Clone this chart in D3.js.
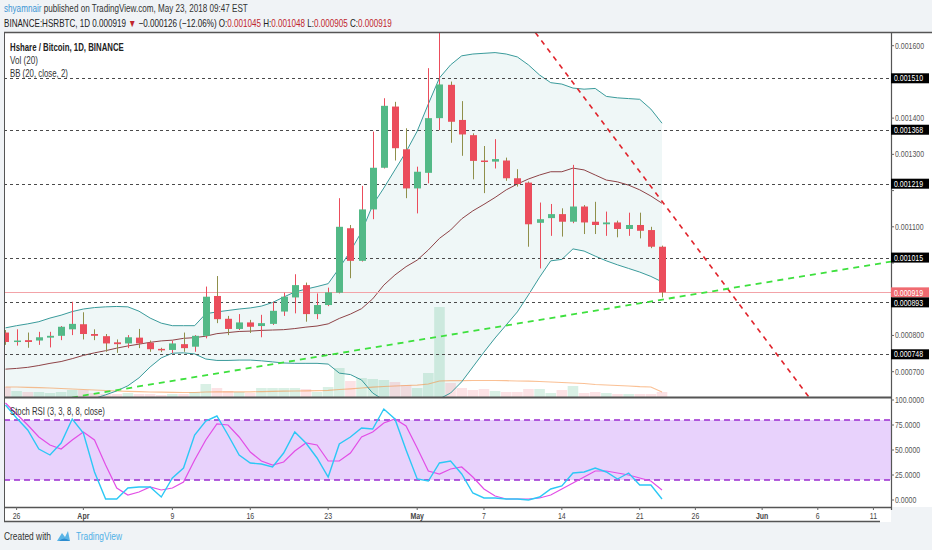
<!DOCTYPE html>
<html><head><meta charset="utf-8">
<script src="https://cdn.jsdelivr.net/npm/d3@7"></script>
<style>
html,body{margin:0;padding:0;background:#f0f3f6;}
svg{display:block;font-family:"Liberation Sans",Arial,sans-serif;}
</style></head><body>
<svg id="c" width="932" height="550"></svg>
<script>
// ---------- DATA (prices in µBTC, i.e. x 1e-6 BTC) ----------
const UNIT = 1e-6;
const firstDay = "2018-03-25", lastDay = "2018-05-23";
const openU  = [808,782,787,786,794,799,817,831,804,798,781,778,794,780,763,760,776,769,799,909,846,818,836,826,832,866,905,939,859,884,918,1096,1006,1148,1263,1432,1314,1206,1249,1400,1492,1395,1353,1283,1280,1283,1234,1222,1111,1124,1135,1114,1156,1114,1107,1112,1094,1105,1091,1045];
const highU  = [815,817,808,810,810,826,893,864,817,804,789,801,818,786,766,786,808,801,935,964,854,859,843,857,893,918,969,946,916,932,1179,1105,1213,1363,1455,1445,1372,1266,1538,1640,1501,1447,1358,1323,1342,1291,1259,1225,1167,1163,1151,1271,1160,1169,1142,1117,1139,1139,1100,1048];
const lowU   = [774,772,766,774,767,787,801,789,787,755,752,765,765,755,754,751,755,755,792,834,801,815,807,795,829,854,861,838,845,881,916,958,1004,1121,1261,1283,1179,1137,1220,1367,1332,1296,1231,1193,1261,1227,1211,1045,985,1075,1073,1110,1080,1080,1075,1071,1075,1068,1041,905];
const closeU = [782,786,782,795,799,824,832,804,799,778,776,795,778,762,759,778,765,799,907,845,818,836,824,834,868,907,939,859,884,919,1100,1006,1148,1263,1434,1317,1206,1252,1400,1493,1390,1355,1282,1279,1287,1234,1218,1107,1121,1135,1114,1156,1112,1105,1112,1094,1105,1089,1045,919];
const volume = [10,6,5,5,4,5,7,7,4,3,3,4,3,3,2,3,3,5,13,9,6,5,4,9,9,9,9,8,5,10,29,16,19,18,17,15,12,9,24,90,14,9,7,8,6,5,5,8,8,4,7,11,4,5,4,3,3,3,3,5];
const volumeMA = [10,10,9.7,9.3,9,8.5,8,7.5,7,6.5,6,5.7,5.4,5,4.8,4.6,4.5,4.5,5,5.2,5.2,5.2,5.2,5.4,5.6,5.8,6,6.2,6.3,6.6,7.5,8.2,9,9.8,10.5,11,11.5,11.8,13,16,16.3,16.4,16.5,16.5,16.5,16.3,16,15.8,15.5,15,14.5,14,13.5,12.5,12,11.5,11,10.3,10,5];
const bbUpperU = [821,827,832,838,848,856,866,873,877,879,880,879,867,848,834,827,827,827,860,865,869,873,876,881,891,906,920,928,935,943,986,1033,1086,1160,1207,1257,1307,1364,1439,1511,1547,1572,1577,1579,1581,1577,1569,1547,1519,1498,1494,1483,1480,1482,1460,1456,1454,1452,1425,1386];
const bbBasisU = [707,709,712,717,723,728,736,745,752,758,765,771,776,781,785,787,792,794,798,805,808,811,812,814,815,816,819,823,826,832,847,859,874,901,939,967,990,1008,1036,1068,1091,1122,1144,1162,1181,1202,1218,1232,1243,1252,1252,1262,1257,1243,1229,1224,1215,1202,1185,1165];
const bbLowerU = [591,590,591,596,597,600,607,616,626,636,647,661,683,713,738,751,752,749,735,731,731,732,732,730,727,724,723,723,723,721,696,692,677,641,622,594,580,589,608,625,641,672,713,754,793,829,865,912,961,1006,1010,1039,1033,1019,1006,995,985,975,963,948];
const stochK = [95,82,70,51,45,57,81,67,28,1,1,12,13,13,3,22,32,65,79,84,65,45,37,36,33,47,68,57,42,23,56,63,72,71,91,81,50,21,19,37,39,26,7,2,2,1,1,0,3,11,14,27,28,32,28,21,27,15,15,1];
const stochD = [97,86,75,63,55,51,60,68,60,35,12,5,8,13,10,12,18,40,60,76,75,63,48,39,35,38,49,57,55,39,39,47,63,68,77,81,74,52,29,26,31,33,23,11,4,1,1,1,2,5,11,17,23,29,29,27,25,22,19,10];
const levelsU = [1510,1368,1219,1015,893,748];
const lastPriceU = 919;
const redTrend   = [["2018-05-10",1702.7],["2018-06-07",556.6]];
const greenTrend = [["2018-03-30",623.7],["2018-06-13",1006]];
const xTickDates  = ["2018-03-26","2018-04-01","2018-04-09","2018-04-16","2018-04-23","2018-05-01","2018-05-07","2018-05-14","2018-05-21","2018-05-26","2018-06-01","2018-06-06","2018-06-11"];
const xTickLabels = ["26","Apr","9","16","23","May","7","14","21","26","Jun","6","11"];
const priceTicksU = [700,800,900,1000,1100,1200,1300,1400,1500,1600];
const stochTicks = [0,25,50,75,100];
const stochBands = [20,80];

// ---------- SETUP ----------
const svg = d3.select("#c");
const parse = d3.utcParse("%Y-%m-%d");
const dates = d3.utcDay.range(parse(firstDay), d3.utcDay.offset(parse(lastDay),1));
const candles = dates.map((d,i)=>({d, o:openU[i]*UNIT, h:highU[i]*UNIT, l:lowU[i]*UNIT, c:closeU[i]*UNIT,
  v:volume[i], vma:volumeMA[i], up:bbUpperU[i]*UNIT, mid:bbBasisU[i]*UNIT, lo:bbLowerU[i]*UNIT, k:stochK[i], dd:stochD[i]}));

const L = 4, R = 891, T = 32, MB = 397, SB = 507;
const x = d3.scaleUtc().domain([parse(firstDay), parse(lastDay)]).range([5.47, 662]);
const y = d3.scaleLinear().domain([600*UNIT, 1600*UNIT]).range([407.9, 45.7]);
const yv = d3.scaleLinear().domain([0,100]).range([MB, MB-100]);
const ys = d3.scaleLinear().domain([0,100]).range([500, 400]);
const fmtP = d3.format(".6f"), fmtS = d3.format(".4f");

function T_(parent, px, py, s, o={}) {
  const t = parent.append("text")
    .attr("font-size", o.size||8.5).attr("fill", o.fill||"#4d4d4d")
    .attr("text-anchor", o.anchor||"start").attr("font-weight", o.bold?"bold":null).text(s);
  let sx = o.sx||0.82;
  if (o.w) { const len = t.node().getComputedTextLength(); sx = o.w/len; }
  t.attr("transform", `translate(${px},${py}) scale(${sx},1)`);
  return t;
}

// backgrounds
svg.append("rect").attr("x",L).attr("y",T).attr("width",932-L).attr("height",SB-T).attr("fill","#fff");
svg.append("rect").attr("x",L).attr("y",SB).attr("width",R-L).attr("height",15).attr("fill","#fff");

const defs = svg.append("defs");
defs.append("clipPath").attr("id","cm").append("rect").attr("x",L).attr("y",T).attr("width",R-L).attr("height",MB-T);
defs.append("clipPath").attr("id","cs").append("rect").attr("x",L).attr("y",MB+1).attr("width",R-L).attr("height",SB-MB-1);

const main = svg.append("g").attr("clip-path","url(#cm)");

// Bollinger fill
main.append("path").datum(candles)
  .attr("d", d3.area().x(d=>x(d.d)).y0(d=>y(d.lo)).y1(d=>y(d.up)))
  .attr("fill","rgba(25,135,135,0.07)");

// volume
main.selectAll(".vol").data(candles).join("rect")
  .attr("x", d=>x(d.d)-5.3).attr("width",10.6)
  .attr("y", d=>yv(d.v)).attr("height", d=>yv(0)-yv(d.v))
  .attr("fill", d=> d.c>=d.o ? "rgba(83,185,135,0.22)" : "rgba(235,77,92,0.16)");
main.append("path").datum(candles)
  .attr("d", d3.line().x(d=>x(d.d)).y(d=>yv(d.vma)))
  .attr("fill","none").attr("stroke","rgba(245,140,60,0.55)").attr("stroke-width",1.2);

// BB lines
const bbLine = key => d3.line().x(d=>x(d.d)).y(d=>y(d[key]));
main.append("path").datum(candles).attr("d",bbLine("up")).attr("fill","none").attr("stroke","#3a9b9b").attr("stroke-width",1);
main.append("path").datum(candles).attr("d",bbLine("lo")).attr("fill","none").attr("stroke","#3a9b9b").attr("stroke-width",1);
main.append("path").datum(candles).attr("d",bbLine("mid")).attr("fill","none").attr("stroke","#8e4347").attr("stroke-width",1);

// horizontal levels
main.selectAll(".lvl").data(levelsU).join("line")
  .attr("x1",L).attr("x2",R).attr("y1",d=>Math.round(y(d*UNIT))+0.5).attr("y2",d=>Math.round(y(d*UNIT))+0.5)
  .attr("stroke","#4a4a4a").attr("stroke-width",1.2).attr("stroke-dasharray","3,3");
main.append("line").attr("x1",L).attr("x2",R)
  .attr("y1",Math.round(y(lastPriceU*UNIT))+0.5).attr("y2",Math.round(y(lastPriceU*UNIT))+0.5)
  .attr("stroke","#f3a3a8").attr("stroke-width",1);

// candles
const cg = main.selectAll(".cd").data(candles).join("g");
cg.append("line").attr("x1",d=>Math.round(x(d.d))+0.5).attr("x2",d=>Math.round(x(d.d))+0.5)
  .attr("y1",d=>y(d.h)).attr("y2",d=>y(d.l))
  .attr("stroke",d=> d.c>=d.o ? "#eb4d5c" : "#8f8f4a").attr("stroke-width",1);
cg.append("rect").attr("x",d=>Math.round(x(d.d))-3).attr("width",7)
  .attr("y",d=>y(Math.max(d.o,d.c))).attr("height",d=>Math.max(1.5, y(Math.min(d.o,d.c))-y(Math.max(d.o,d.c))))
  .attr("fill",d=> d.c>=d.o ? "#53b987" : "#eb4d5c");

// trend lines
const tl = pts => d3.line().x(p=>x(parse(p[0]))).y(p=>y(p[1]*UNIT))(pts);
main.append("path").attr("d",tl(redTrend)).attr("fill","none").attr("stroke","#e0242c").attr("stroke-width",1.6).attr("stroke-dasharray","5,5");
main.append("path").attr("d",tl(greenTrend)).attr("fill","none").attr("stroke","#3ee03e").attr("stroke-width",1.8).attr("stroke-dasharray","6,5");

// ---------- STOCH RSI pane ----------
const sp = svg.append("g").attr("clip-path","url(#cs)");
sp.append("rect").attr("x",L).attr("width",R-L).attr("y",ys(stochBands[1])).attr("height",ys(stochBands[0])-ys(stochBands[1])).attr("fill","#e8d2fc");
sp.selectAll(".sb").data(stochBands).join("line").attr("x1",L).attr("x2",R).attr("y1",d=>ys(d)).attr("y2",d=>ys(d))
  .attr("stroke","#9a2bd0").attr("stroke-width",1.6).attr("stroke-dasharray","6,4");
sp.append("path").datum(candles).attr("d",d3.line().x(d=>x(d.d)).y(d=>ys(d.dd))).attr("fill","none").attr("stroke","#e24ee6").attr("stroke-width",1.2);
sp.append("path").datum(candles).attr("d",d3.line().x(d=>x(d.d)).y(d=>ys(d.k))).attr("fill","none").attr("stroke","#2cc8f5").attr("stroke-width",1.4);

// ---------- frames ----------
const fr = svg.append("g").attr("stroke","#555").attr("fill","none");
fr.append("line").attr("x1",L).attr("x2",932).attr("y1",T+0.5).attr("y2",T+0.5).attr("stroke-width",1.5);
fr.append("line").attr("x1",L+0.5).attr("x2",L+0.5).attr("y1",T).attr("y2",522);
fr.append("line").attr("x1",L).attr("x2",R).attr("y1",MB+0.5).attr("y2",MB+0.5).attr("stroke-width",2);
fr.append("line").attr("x1",L).attr("x2",R).attr("y1",SB+0.5).attr("y2",SB+0.5).attr("stroke-width",1.5);
fr.append("line").attr("x1",L).attr("x2",880).attr("y1",521.5).attr("y2",521.5).attr("stroke-width",1.5);
fr.append("line").attr("x1",R+0.5).attr("x2",R+0.5).attr("y1",T).attr("y2",SB+3).attr("stroke-width",1.2);

// ---------- axes ----------
const ax = svg.append("g");
// label boxes positions first (to keep plain tick labels clear of them)
const boxes = levelsU.map(v=>({v, txt:fmtP(v*UNIT), bg:"#000"})).concat([{v:lastPriceU, txt:fmtP(lastPriceU*UNIT), bg:"#f06a70"}]);
boxes.forEach(b=>b.cy = y(b.v*UNIT));
boxes.sort((a,b)=>a.cy-b.cy);
for (let i=1;i<boxes.length;i++){ if (boxes[i].cy - boxes[i-1].cy < 10) boxes[i].cy = boxes[i-1].cy + 10; }

priceTicksU.filter(v=>y(v*UNIT)>T+4 && y(v*UNIT)<MB-4).forEach(v=>{
  const py = y(v*UNIT);
  ax.append("line").attr("x1",R).attr("x2",R+3).attr("y1",py).attr("y2",py).attr("stroke","#666");
  if (boxes.every(b=>Math.abs(b.cy-py) > 10))
    T_(ax, R+4, py+3, fmtP(v*UNIT), {fill:"#555"});
});
stochTicks.forEach(v=>{
  const py = ys(v);
  ax.append("line").attr("x1",R).attr("x2",R+3).attr("y1",py).attr("y2",py).attr("stroke","#666");
  T_(ax, R+4, py+3, fmtS(v), {fill:"#555"});
});
xTickDates.forEach((s,i)=>{
  const px = x(parse(s));
  ax.append("line").attr("x1",px).attr("x2",px).attr("y1",SB).attr("y2",SB+3).attr("stroke","#666");
  T_(ax, px, 518.5, xTickLabels[i], {anchor:"middle", bold:/[A-Za-z]/.test(xTickLabels[i]), fill:"#444"});
});

boxes.forEach(b=>{
  ax.append("rect").attr("x",R).attr("y",b.cy-5).attr("width",38).attr("height",10).attr("fill",b.bg);
  T_(ax, R+3, b.cy+3.2, b.txt, {fill:"#fff"});
});

// ---------- texts ----------
const h1 = svg.append("text").attr("font-size",10.5).attr("fill","#333");
h1.append("tspan").attr("fill","#3d95d4").text("shyamnair");
h1.append("tspan").text(" published on TradingView.com, May 23, 2018 09:47 EST");
h1.attr("transform",`translate(4,12) scale(${244/h1.node().getComputedTextLength()},1)`);

const h2 = svg.append("text").attr("font-size",10.5).attr("fill","#222");
h2.append("tspan").text("BINANCE:HSRBTC, 1D  0.000919 ");
h2.append("tspan").attr("fill","#c0262d").text("▼");
h2.append("tspan").text(" −0.000126 (−12.06%) O:");
h2.append("tspan").attr("fill","#c0262d").text("0.001045");
h2.append("tspan").text(" H:");
h2.append("tspan").attr("fill","#c0262d").text("0.001048");
h2.append("tspan").text(" L:");
h2.append("tspan").attr("fill","#c0262d").text("0.000905");
h2.append("tspan").text(" C:");
h2.append("tspan").attr("fill","#c0262d").text("0.000919");
h2.attr("transform",`translate(4,26.5) scale(${388/h2.node().getComputedTextLength()},1)`);

T_(svg, 10, 50.5, "Hshare / Bitcoin, 1D, BINANCE", {size:10, bold:true, fill:"#222", w:114});
T_(svg, 10, 63.5, "Vol (20)", {size:10, fill:"#333", w:28});
T_(svg, 10, 76.5, "BB (20, close, 2)", {size:10, fill:"#333", w:58});
T_(svg, 10, 414.5, "Stoch RSI (3, 3, 8, 8, close)", {size:10, fill:"#333", w:95});

// footer
T_(svg, 4, 540, "Created with", {size:10, fill:"#333", w:47});
const logo = svg.append("g").attr("transform","translate(57,530)");
logo.append("path").attr("d","M0,11 L5,3 L8,7 L11,1 L13,11 Z").attr("fill","#5ab4e6");
logo.append("path").attr("d","M2,11 Q7,6 13,11").attr("fill","#2d8ccf");
T_(svg, 76, 540, "TradingView", {size:10, fill:"#4fb0e6", w:46});
</script>
</body></html>
